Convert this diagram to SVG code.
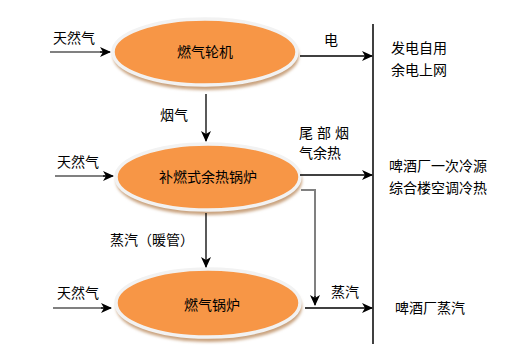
<svg xmlns="http://www.w3.org/2000/svg" width="524" height="353" viewBox="0 0 524 353">
<defs>
<marker id="ah" markerWidth="12" markerHeight="10" refX="10" refY="5" orient="auto" markerUnits="userSpaceOnUse">
<path d="M0,0 L11,5 L0,10 L3,5 Z" fill="#000"/>
</marker>
<filter id="sh" x="-10%" y="-10%" width="120%" height="130%">
<feGaussianBlur stdDeviation="1.5"/>
</filter>
</defs>
<style>
text{font-family:"Noto Sans CJK SC","Noto Sans",sans-serif;font-size:14px;fill:#000}
.mid{text-anchor:middle}
.ell{fill:#F79646;stroke:#F2F2F2;stroke-width:3.5}
.shadow{fill:#C9A37F;filter:url(#sh)}
.c{stroke:#000;stroke-width:1.3;fill:none}
.g{stroke:#808080;stroke-width:2;fill:none}
</style>
<g id="node1">
<ellipse class="shadow" cx="206" cy="56" rx="93" ry="34"/>
<ellipse class="ell" cx="205" cy="52" rx="92" ry="33"/>
<text class="mid" x="205" y="57">燃气轮机</text>
</g>
<g id="node2">
<ellipse class="shadow" cx="209" cy="181" rx="93" ry="34"/>
<ellipse class="ell" cx="208" cy="177" rx="92" ry="33"/>
<text class="mid" x="208" y="182">补燃式余热锅炉</text>
</g>
<g id="node3">
<ellipse class="shadow" cx="209" cy="307" rx="93" ry="35"/>
<ellipse class="ell" cx="208" cy="303" rx="92" ry="34"/>
<text class="mid" x="212" y="310">燃气锅炉</text>
</g>
<g id="connectors">
<line x1="373" y1="24" x2="373" y2="344" stroke="#000" stroke-width="1.5"/>
<line class="g" x1="50" y1="52" x2="104" y2="52"/>
<line class="c" x1="100" y1="52" x2="110" y2="52" marker-end="url(#ah)"/>
<line class="g" x1="55" y1="176" x2="107" y2="176"/>
<line class="c" x1="103" y1="176" x2="113" y2="176" marker-end="url(#ah)"/>
<line class="g" x1="53" y1="308" x2="105" y2="308"/>
<line class="c" x1="101" y1="308" x2="111" y2="308" marker-end="url(#ah)"/>
<line class="c" x1="300" y1="56" x2="372" y2="56" marker-end="url(#ah)"/>
<line class="c" x1="206" y1="94" x2="206" y2="141" marker-end="url(#ah)"/>
<line class="c" x1="300" y1="175" x2="372" y2="175" marker-end="url(#ah)"/>
<line class="c" x1="206" y1="213" x2="206" y2="267" marker-end="url(#ah)"/>
<polyline class="g" points="301,190 315,190 315,300"/>
<line class="c" x1="315" y1="296" x2="315" y2="305" marker-end="url(#ah)"/>
<line class="c" x1="305" y1="308" x2="372" y2="308" marker-end="url(#ah)"/>
</g>
<g id="labels">
<text x="53" y="43">天然气</text>
<text x="57" y="167">天然气</text>
<text x="57" y="298">天然气</text>
<text x="324" y="45">电</text>
<text x="160" y="120">烟气</text>
<text x="299" y="138" letter-spacing="4">尾部烟</text>
<text x="299" y="158">气余热</text>
<text x="110" y="245">蒸汽（暖管）</text>
<text x="331" y="297">蒸汽</text>
<text x="391" y="53">发电自用</text>
<text x="391" y="75">余电上网</text>
<text x="389" y="171">啤酒厂一次冷源</text>
<text x="389" y="193">综合楼空调冷热</text>
<text x="395" y="313">啤酒厂蒸汽</text>
</g>
</svg>
